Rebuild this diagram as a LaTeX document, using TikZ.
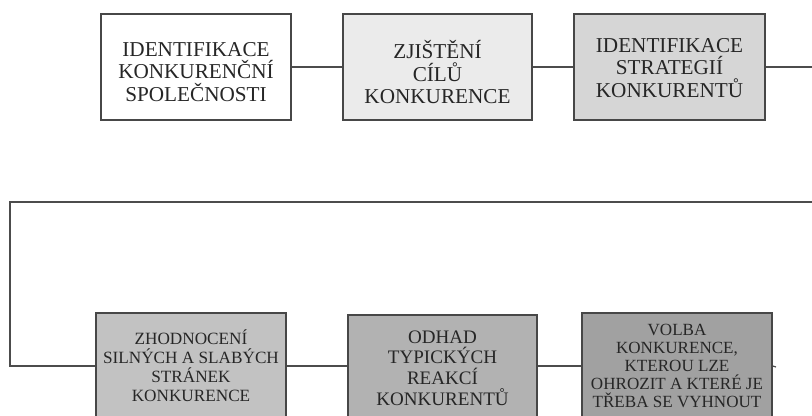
\documentclass[tikz,border=0pt]{standalone}
\usepackage{fontspec}
\setmainfont{Liberation Serif}
\begin{document}
\begin{tikzpicture}[x=0.75pt,y=-0.75pt,
  box/.style={draw=black!72, line width=1.1pt, minimum height=79.5pt,
    align=center, inner sep=0pt, text=black!85},
  txt/.style={align=center, inner sep=0pt, text=black!85},
  wA/.style={minimum width=142.5pt},
  topfont/.style={font=\fontsize{15.9}{16.9}\selectfont},
  fourfont/.style={font=\fontsize{12.9}{14.2}\selectfont},
  fivefont/.style={font=\fontsize{14.3}{15.6}\selectfont},
  sixfont/.style={font=\fontsize{12.8}{13.5}\selectfont},
  link/.style={draw=black!70, line width=0.9pt}]
\clip (0,0) rectangle (812,416);
\fill[white] (0,0) rectangle (812,416);
% top row
\node[box, wA, fill=white] (b1) at (196,67) {};
\node[box, minimum width=141.75pt, fill=black!8] (b2) at (437.5,67) {};
\node[box, minimum width=143.25pt, fill=black!16] (b3) at (669.5,67) {};
\node[txt, topfont] (t1) at ([yshift=-3.8pt]b1.center)
  {IDENTIFIKACE\\KONKURENČNÍ\\SPOLEČNOSTI};
\node[txt, topfont] (t2) at ([yshift=-3.8pt]b2.center)
  {ZJIŠTĚNÍ\\CÍLŮ\\KONKURENCE};
\node[txt, topfont] (t3) at ([yshift=-0.8pt]b3.center)
  {IDENTIFIKACE\\STRATEGIÍ\\KONKURENTŮ};
% bottom row
\node[box, wA, fourfont, fill=black!24] (b4) at (191,366)
  {ZHODNOCENÍ\\SILNÝCH A SLABÝCH\\STRÁNEK\\KONKURENCE};
\node[box, minimum width=141.75pt, fivefont, fill=black!30] (b5) at (442.5,368)
  {ODHAD\\TYPICKÝCH\\REAKCÍ\\KONKURENTŮ};
\node[box, wA, sixfont, fill=black!37] (b6) at (677,366)
  {VOLBA\\KONKURENCE,\\KTEROU LZE\\OHROZIT A KTERÉ JE\\TŘEBA SE VYHNOUT};
% connectors
\coordinate (r1) at (830,67);
\coordinate (r2) at (830,202);
\coordinate (l1) at (10,202);
\coordinate (stub) at (776,367);
\draw[link] (b1.east) -- (b2.west);
\draw[link] (b2.east) -- (b3.west);
\draw[link] (b3.east) -- (r1) -- (r2) -- (l1) |- (b4.west);
\draw[link] (b4.east) -- (b5.west |- b4.east);
\draw[link] (b5.east |- b4.east) -- (b6.west |- b4.east);
\draw[link] (b6.east |- b4.east) -- (stub);
\end{tikzpicture}
\end{document}
